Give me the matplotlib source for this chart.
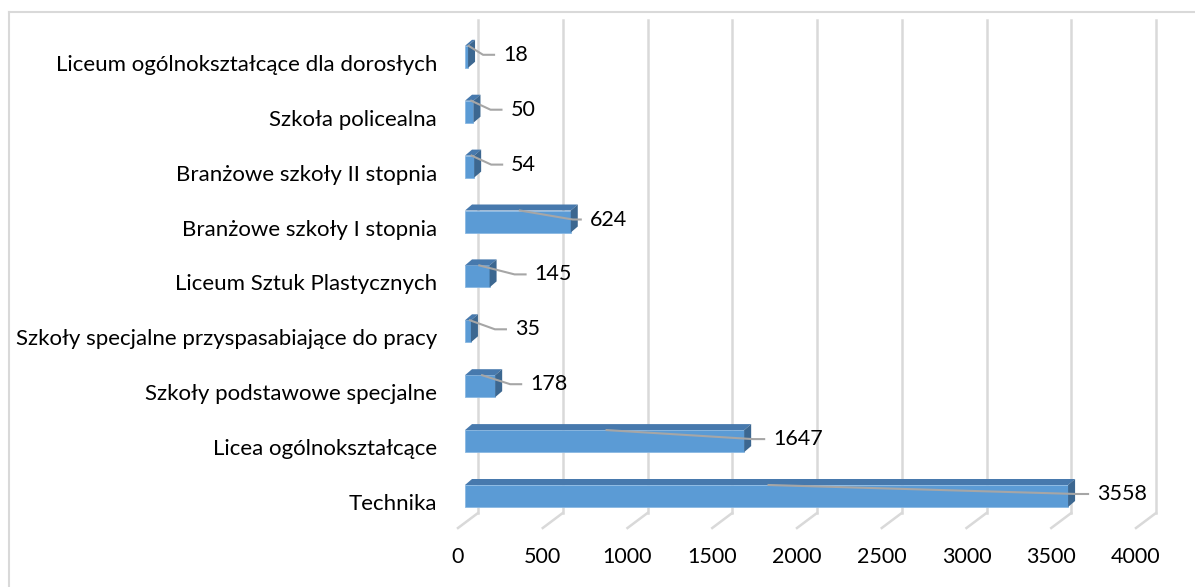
import numpy as np
import matplotlib.pyplot as plt
from matplotlib.patches import Polygon, Rectangle
from matplotlib.lines import Line2D

categories = ['Technika', 'Licea ogólnokształcące', 'Szkoły podstawowe specjalne',
              'Szkoły specjalne przyspasabiające do pracy', 'Liceum Sztuk Plastycznych',
              'Branżowe szkoły I stopnia', 'Branżowe szkoły II stopnia',
              'Szkoła policealna', 'Liceum ogólnokształcące dla dorosłych']
values = [3558, 1647, 178, 35, 145, 624, 54, 50, 18]
xticks = [0, 500, 1000, 1500, 2000, 2500, 3000, 3500, 4000]
# gap (px) between bar end and its value label, as excel placed them
label_pad = [29, 29, 35, 44, 45, 19, 37, 37, 35]

plt.rcParams['font.family'] = ['Lato', 'DejaVu Sans']
fs = 15.5

W, H = 1195, 587
fig = plt.figure(figsize=(W / 100, H / 100), dpi=100)

# layout in pixels
x0_px = 465          # front of bars at value 0
sx = 0.1695          # px per unit
y0_px = 496          # front centre of first bar
sy = 54.9            # px per category
xmax = 4000
ylo, yhi = -0.8, 8.75
left = x0_px / W
width = xmax * sx / W
top_px = y0_px - yhi * sy
bot_px = y0_px - ylo * sy
ax = fig.add_axes([left, 1 - bot_px / H, width, (bot_px - top_px) / H])
ax.set_xlim(0, xmax)
ax.set_ylim(ylo, yhi)
ax.axis('off')

px = lambda p: p / sx   # px -> x units
py = lambda p: p / sy   # px -> y units

grid_c = '#d9d9d9'
# back-wall gridlines and floor diagonals
for t in xticks:
    xb = t + px(13)
    ax.add_line(Line2D([xb, xb], [py(y0_px - 513), py(y0_px - 20)], color=grid_c, lw=1.8, zorder=1, clip_on=False))
    ax.add_line(Line2D([xb, xb - px(20)], [py(y0_px - 513), py(y0_px - 528)], color=grid_c, lw=1.8, zorder=1, clip_on=False))
    ax.text(xb - px(20), py(y0_px - 557), str(t), ha='center', va='center', fontsize=fs, clip_on=False)

front_c = '#5b9bd5'
top_c = '#4779ad'
side_c = '#3c6790'
hy = py(11)
dxu, dyu = px(7), py(6)
for i, (cat, v) in enumerate(zip(categories, values)):
    c = i
    ax.add_patch(Rectangle((0, c - hy), v, 2 * hy, facecolor=front_c, edgecolor='#8ab8e2', lw=0.6, zorder=3))
    ax.add_patch(Polygon([(0, c + hy), (v, c + hy), (v + dxu, c + hy + dyu), (dxu, c + hy + dyu)],
                         closed=True, facecolor=top_c, edgecolor='none', zorder=3))
    ax.add_patch(Polygon([(v, c - hy), (v + dxu, c - hy + dyu), (v + dxu, c + hy + dyu), (v, c + hy)],
                         closed=True, facecolor=side_c, edgecolor='none', zorder=3))
    # value label with leader
    lx = v + px(label_pad[i])
    ly = c + py(2)
    ax.text(lx, ly, str(v), ha='left', va='center', fontsize=fs, zorder=5, clip_on=False)
    ax.add_line(Line2D([v / 2 + px(2), max(lx - px(20), v + px(2)), lx - px(9)],
                       [c + hy, ly, ly], color='#a6a6a6', lw=1.5, zorder=4, clip_on=False))
    # category label
    ax.text(-px(28), c - py(8), cat, ha='right', va='center', fontsize=16, clip_on=False)

# chart border (only left/top visible in crop)
fig.add_artist(Line2D([9 / W, 9 / W], [0, 1 - 12 / H], transform=fig.transFigure, color=grid_c, lw=1.5))
fig.add_artist(Line2D([9 / W, 1], [1 - 12 / H, 1 - 12 / H], transform=fig.transFigure, color=grid_c, lw=1.5))

fig.savefig('out.png', dpi=100, facecolor='white')
